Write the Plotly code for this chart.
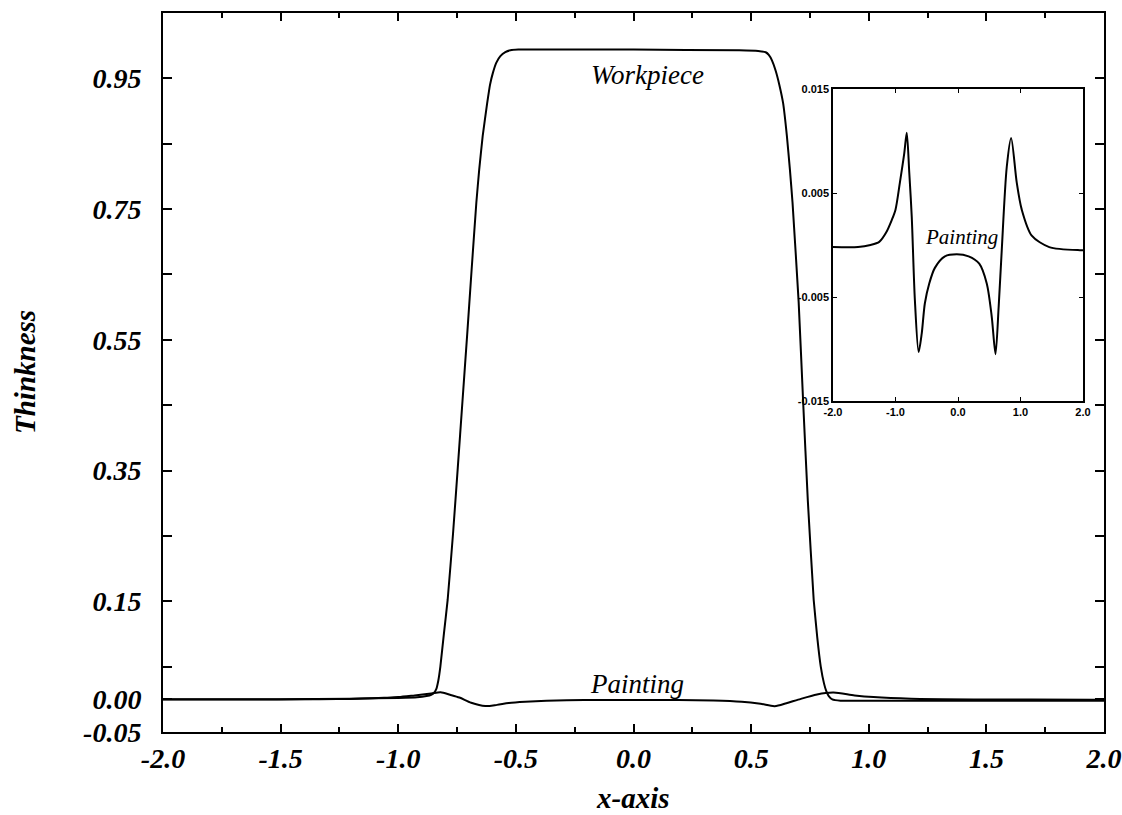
import plotly.graph_objects as go

# ---- data ----
work_x = [-2.0, -1.5, -1.2, -1.0, -0.92, -0.88, -0.86, -0.848, -0.838, -0.83, -0.821, -0.806,
          -0.79, -0.767, -0.747, -0.727, -0.707, -0.688, -0.668, -0.656, -0.641, -0.622, -0.61,
          -0.598, -0.583, -0.566, -0.545, -0.523, -0.49, -0.45, 0.0, 0.45, 0.53, 0.562, 0.575,
          0.588, 0.604, 0.62, 0.636, 0.652, 0.665, 0.676, 0.702, 0.721, 0.741, 0.766, 0.781,
          0.796, 0.81, 0.82, 0.83, 0.845, 0.88, 0.95, 1.2, 1.5, 2.0]
work_y = [0.0, 0.0, 0.001, 0.002, 0.003, 0.005, 0.007, 0.01, 0.016, 0.028, 0.05, 0.1,
          0.152, 0.254, 0.354, 0.456, 0.558, 0.658, 0.76, 0.81, 0.862, 0.912, 0.94,
          0.958, 0.974, 0.984, 0.99, 0.993, 0.994, 0.994, 0.994, 0.993, 0.992, 0.99, 0.986,
          0.978, 0.962, 0.94, 0.912, 0.862, 0.81, 0.76, 0.608, 0.456, 0.304, 0.152, 0.095,
          0.05, 0.024, 0.012, 0.005, 0.0, -0.002, -0.002, -0.002, -0.002, -0.002]

paint_x = [-2.0, -1.6, -1.4, -1.26, -1.15, -1.06, -1.0, -0.93, -0.86, -0.82, -0.78, -0.74,
           -0.69, -0.63, -0.58, -0.53, -0.46, -0.37, -0.21, -0.02, 0.17, 0.34, 0.46, 0.54,
           0.60, 0.65, 0.70, 0.78, 0.85, 0.94, 1.02, 1.18, 1.46, 1.95, 2.0]
paint_y = [-0.0002, -0.0002, 0.0, 0.0003, 0.0012, 0.0024, 0.0034, 0.006, 0.0088, 0.0108, 0.007,
           0.0027, -0.0053, -0.0103, -0.0085, -0.0056, -0.0037, -0.0022, -0.0011, -0.0009,
           -0.0011, -0.0018, -0.0037, -0.0069, -0.0105, -0.006, -0.0005, 0.0075, 0.0103, 0.006,
           0.0034, 0.0009, -0.0002, -0.0005, -0.0005]

main_xticks = [-2.0, -1.5, -1.0, -0.5, 0.0, 0.5, 1.0, 1.5, 2.0]
main_xlabels = ["-2.0", "-1.5", "-1.0", "-0.5", "0.0", "0.5", "1.0", "1.5", "2.0"]
main_xminor = [-1.75, -1.25, -0.75, -0.25, 0.25, 0.75, 1.25, 1.75]
main_yticks = [-0.05, 0.0, 0.15, 0.35, 0.55, 0.75, 0.95]
main_ylabels = ["-0.05", "0.00", "0.15", "0.35", "0.55", "0.75", "0.95"]
main_yminor = [0.05, 0.25, 0.45, 0.65, 0.85]

inset_xticks = [-2.0, -1.0, 0.0, 1.0, 2.0]
inset_xlabels = ["-2.0", "-1.0", "0.0", "1.0", "2.0"]
inset_yticks = [-0.015, -0.005, 0.005, 0.015]
inset_ylabels = ["-0.015", "-0.005", "0.005", "0.015"]

SERIF = "Liberation Serif"
SANS = "Liberation Sans"

fig = go.Figure()
wline = dict(color="black", width=2, shape="spline", smoothing=0.3)
pline = dict(color="black", width=2, shape="spline", smoothing=0.8)
fig.add_trace(go.Scatter(x=work_x, y=work_y, mode="lines", line=wline, xaxis="x", yaxis="y",
                         showlegend=False, hoverinfo="skip"))
fig.add_trace(go.Scatter(x=paint_x, y=paint_y, mode="lines", line=pline, xaxis="x", yaxis="y",
                         showlegend=False, hoverinfo="skip"))
fig.add_trace(go.Scatter(x=paint_x, y=paint_y, mode="lines", line=pline, xaxis="x2", yaxis="y2",
                         showlegend=False, hoverinfo="skip"))

W, H = 1122, 815
ml, mr, mt, mb = 163, 18, 13, 83
pw, ph = W - ml - mr, H - mt - mb

def fx(px):
    return (px - ml) / pw

def fy(py):
    return (H - mb - py) / ph

tickfont_main = dict(family=SERIF, size=28, color="black", weight="bold", style="italic")

fig.update_layout(
    width=W, height=H,
    margin=dict(l=ml, r=mr, t=mt, b=mb, autoexpand=False),
    paper_bgcolor="white", plot_bgcolor="white",
    xaxis=dict(domain=[0, 1], range=[-2, 2], showgrid=False, zeroline=False,
               showline=True, linecolor="black", linewidth=2, mirror="ticks",
               ticks="inside", ticklen=8, tickwidth=1.5, tickcolor="black",
               tickmode="array", tickvals=main_xticks, ticktext=main_xlabels,
               tickfont=tickfont_main, ticklabelstandoff=0,
               minor=dict(tickmode="array", tickvals=main_xminor, ticks="inside",
                          ticklen=5, tickwidth=1.5, tickcolor="black", showgrid=False)),
    yaxis=dict(domain=[0, 1], range=[-0.05, 1.05], showgrid=False, zeroline=False,
               showline=True, linecolor="black", linewidth=2, mirror="ticks",
               ticks="inside", ticklen=9, tickwidth=1.5, tickcolor="black",
               tickmode="array", tickvals=main_yticks, ticktext=main_ylabels,
               tickfont=tickfont_main, ticklabelstandoff=14,
               minor=dict(tickmode="array", tickvals=main_yminor, ticks="inside",
                          ticklen=9, tickwidth=1.5, tickcolor="black", showgrid=False)),
    xaxis2=dict(domain=[fx(833), fx(1083)], anchor="y2", range=[-2, 2], showgrid=False,
                zeroline=False, showline=True, linecolor="black", linewidth=1.5,
                mirror="ticks", ticks="inside", ticklen=4, tickwidth=1.2, tickcolor="black",
                tickmode="array", tickvals=inset_xticks, ticktext=inset_xlabels,
                tickfont=dict(family=SANS, size=11, color="black", weight="bold")),
    yaxis2=dict(domain=[fy(401), fy(89)], anchor="x2", range=[-0.015, 0.015], showgrid=False,
                zeroline=False, showline=True, linecolor="black", linewidth=1.5,
                mirror="ticks", ticks="inside", ticklen=4, tickwidth=1.2, tickcolor="black",
                tickmode="array", tickvals=inset_yticks, ticktext=inset_ylabels,
                tickfont=dict(family=SANS, size=11, color="black", weight="bold")),
    annotations=[
        dict(text="Thinkness", x=fx(25), y=fy(372), xref="paper", yref="paper",
             xanchor="center", yanchor="middle", showarrow=False, textangle=-90,
             font=dict(family=SERIF, size=29, color="black", weight="bold", style="italic")),
        dict(text="x-axis", x=fx(633), y=fy(798), xref="paper", yref="paper",
             xanchor="center", yanchor="middle", showarrow=False,
             font=dict(family=SERIF, size=29, color="black", weight="bold", style="italic")),
        dict(text="Workpiece", x=0.06, y=0.955, xref="x", yref="y", showarrow=False,
             font=dict(family=SERIF, size=27, color="black", style="italic")),
        dict(text="Painting", x=0.013, y=0.024, xref="x", yref="y", showarrow=False,
             font=dict(family=SERIF, size=27, color="black", style="italic")),
        dict(text="Painting", x=0.06, y=0.0008, xref="x2", yref="y2", showarrow=False,
             font=dict(family=SERIF, size=21, color="black", style="italic")),
    ],
)

fig.write_html("out.html")
